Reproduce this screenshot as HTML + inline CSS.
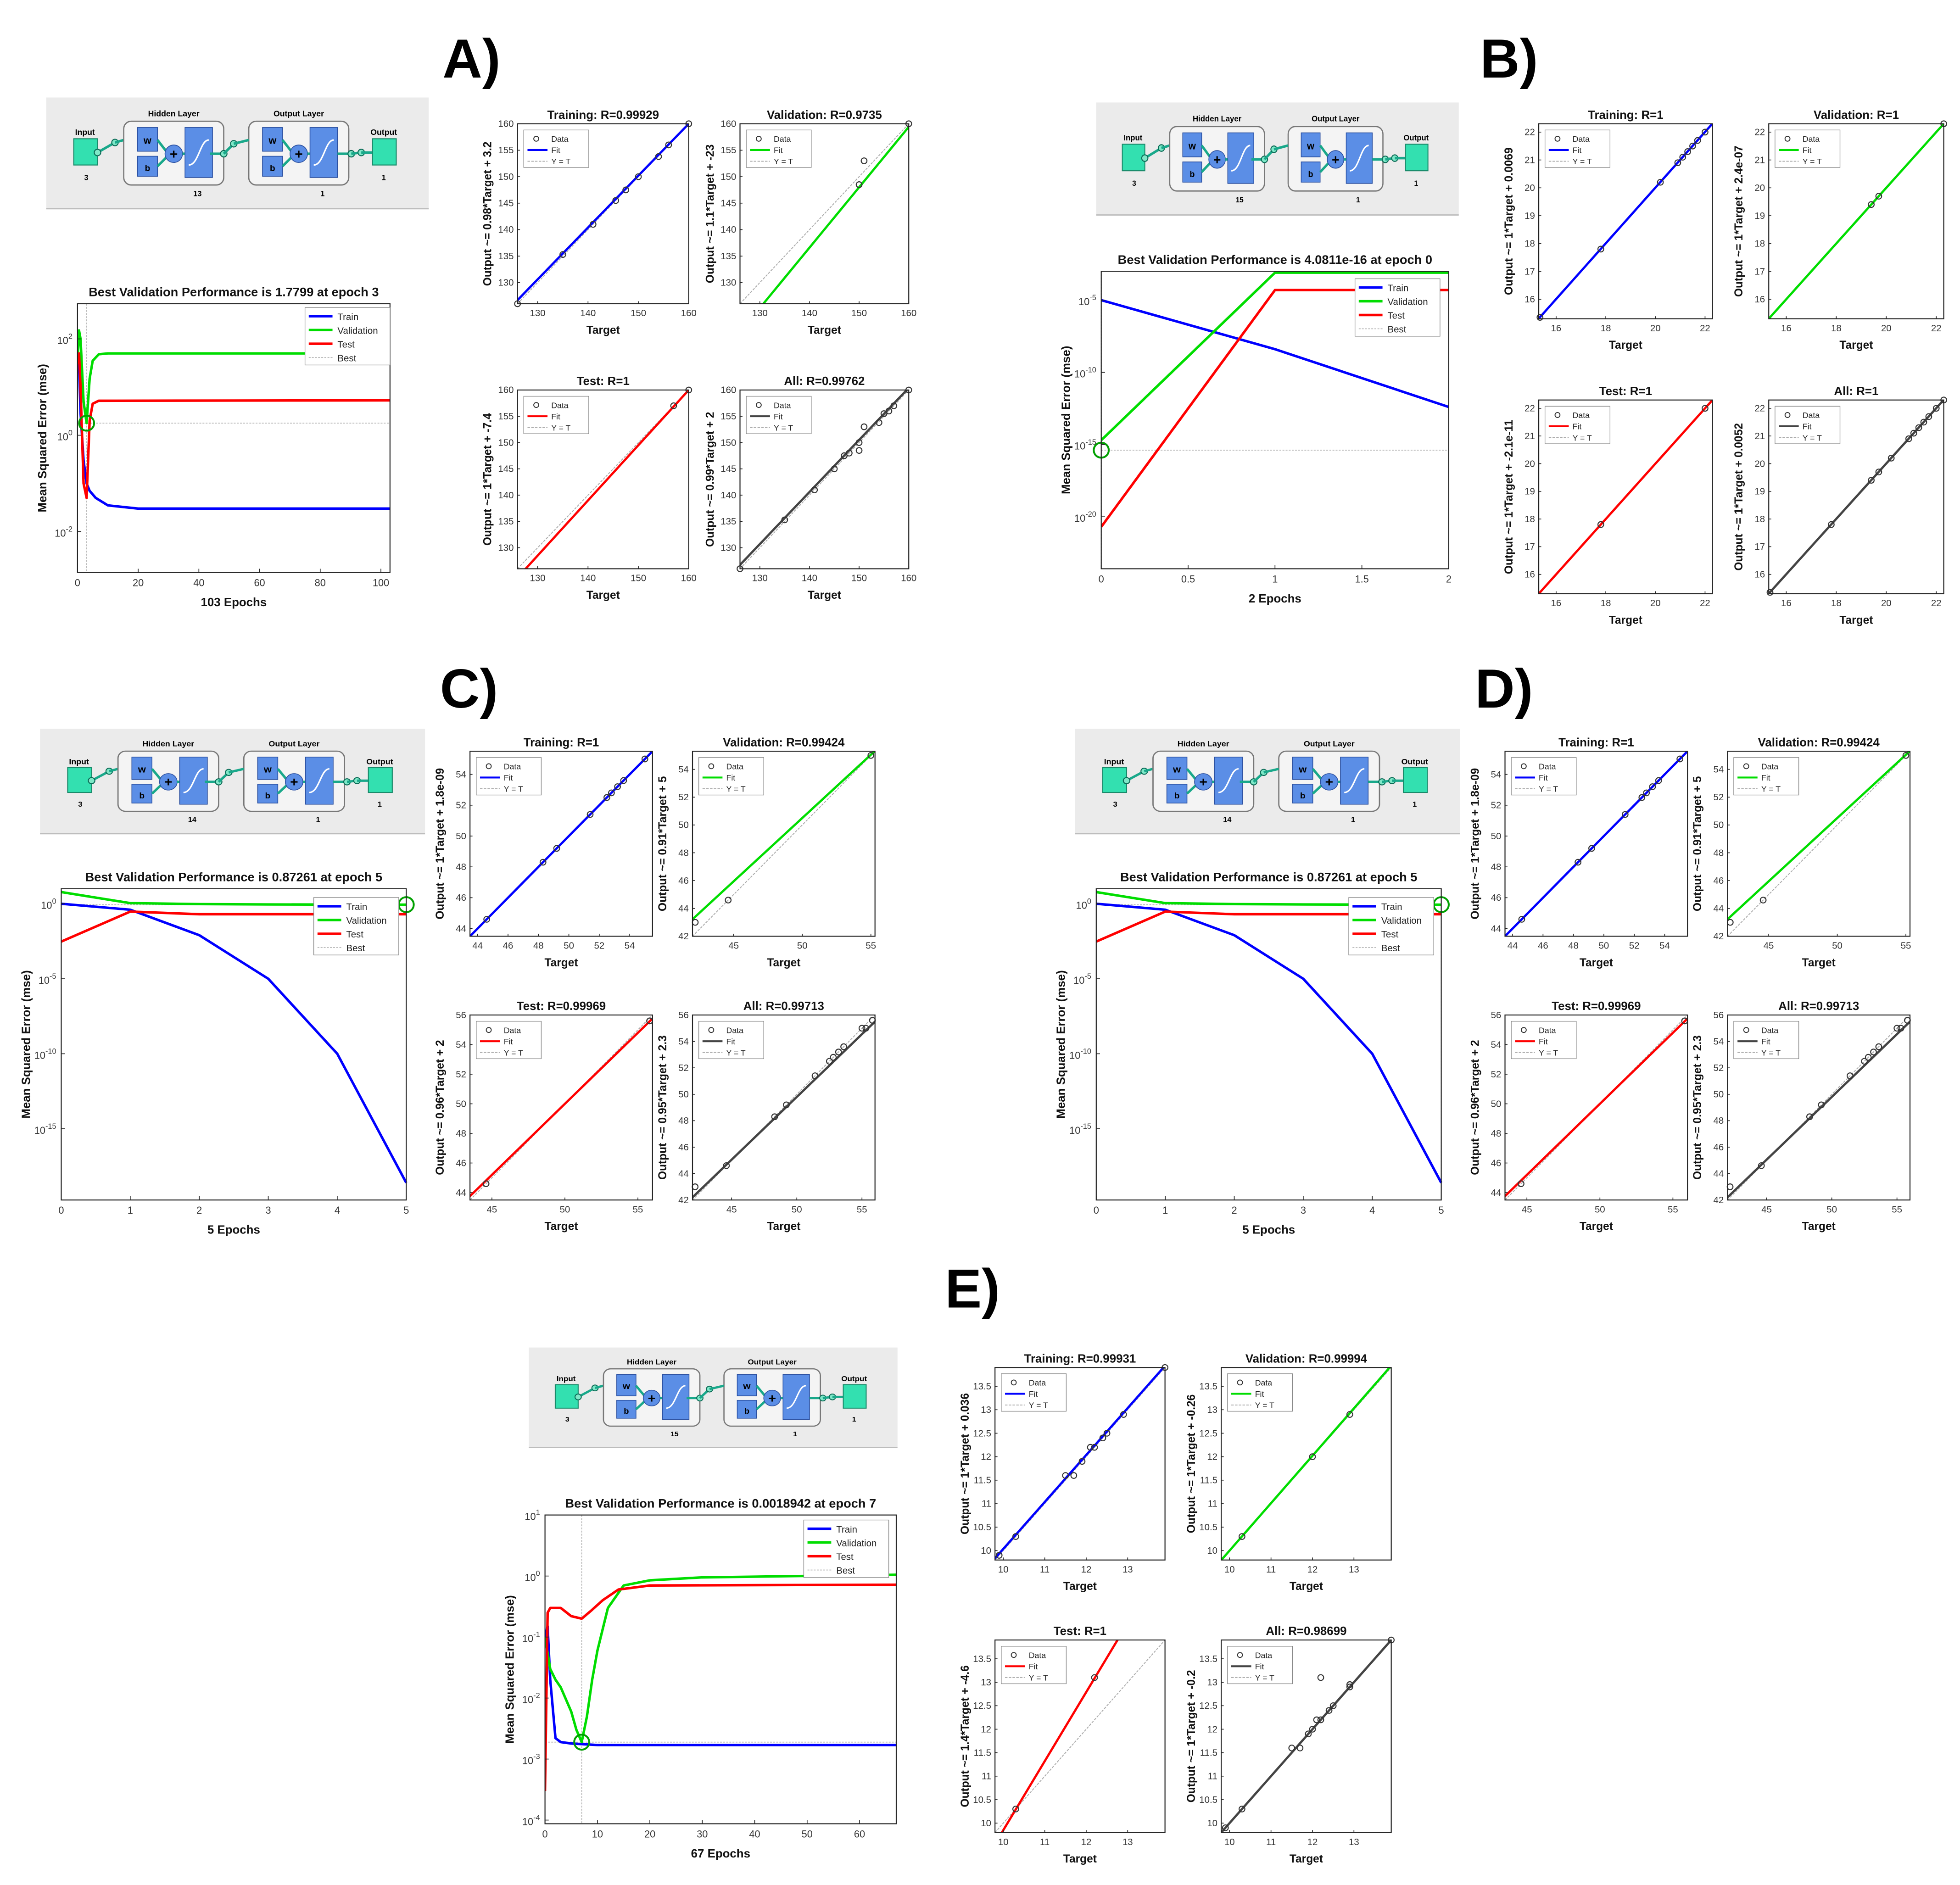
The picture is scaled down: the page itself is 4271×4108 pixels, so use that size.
<!DOCTYPE html>
<html><head><meta charset="utf-8"><style>
html,body{margin:0;padding:0;background:#fff;overflow:hidden;width:4271px;height:4108px;}
svg{display:block;font-family:"Liberation Sans",Arial,sans-serif;}
</style></head><body>
<svg id="fig" xmlns="http://www.w3.org/2000/svg" width="4271" height="4108" viewBox="0 0 1568 1508" preserveAspectRatio="none">
<rect x="0" y="0" width="1568" height="1508" fill="#fff"/>
</svg>
<script>
// ===== Performance data =====
const aTrainE=[0,0.5,1,2,3,4,6,10,20,103];
const aTrainV=[22,30,3,0.3,0.1,0.07,0.05,0.035,0.03,0.03];
const aValE=[0,0.5,1,2,3,4,5,7,10,103];
const aValV=[30,150,100,5,1.78,15,35,48,50,50];
const aTestE=[0,0.5,1,2,3,4,5,7,103];
const aTestV=[30,50,10,0.1,0.05,2,4.5,5.2,5.3];
const bEpochs=[0,1,2];
const bTrainV=[1e-5,4e-9,4e-13];
const bValV=[2e-15,8e-4,8e-4];
const bTestV=[2e-21,5e-5,5e-5];
const cEpochs=[0,1,2,3,4,5];
const cTrainV=[1,0.4,0.008,1e-5,1e-10,2.5e-19];
const cValV=[6,1.1,0.95,0.9,0.88,0.87];
const cTestV=[0.003,0.3,0.2,0.2,0.2,0.2];
const eTrainE=[0,0.5,1,2,3,5,10,20,67];
const eTrainV=[0.1,0.15,0.02,0.0022,0.0019,0.0018,0.0017,0.0017,0.0017];
const eValE=[0,1,2,3,5,6,7,8,9,10,12,15,20,30,67];
const eValV=[0.1,0.03,0.02,0.015,0.006,0.003,0.0019,0.005,0.02,0.06,0.3,0.7,0.85,0.95,1.05];
const eTestE=[0,0.5,1,3,5,7,9,11,14,20,67];
const eTestV=[0.0003,0.25,0.3,0.3,0.22,0.2,0.28,0.4,0.6,0.7,0.72];
// ===== Regression data =====
const aTrainPts=[[126,126],[135,135.3],[141,141],[145.5,145.5],[147.5,147.5],[150,150],[154,153.8],[156,156],[160,160]];
const aValPts=[[150,148.5],[151,153],[160,160]];
const aTestPts=[[157,157],[160,160]];
const aAllPts=[[126,126],[135,135.3],[141,141],[145,145],[147,147.5],[148,148],[150,148.5],[150,150],[151,153],[154,153.8],[155,155.5],[156,156],[157,157],[160,160]];
const bTrainPts=[[15.35,15.35],[17.8,17.8],[20.2,20.2],[20.9,20.9],[21.1,21.1],[21.3,21.3],[21.5,21.5],[21.7,21.7],[22,22]];
const bValPts=[[19.4,19.4],[19.7,19.7],[22.3,22.3]];
const bTestPts=[[17.8,17.8],[22,22]];
const bAllPts=[[15.35,15.35],[17.8,17.8],[19.4,19.4],[19.7,19.7],[20.2,20.2],[20.9,20.9],[21.1,21.1],[21.3,21.3],[21.5,21.5],[21.7,21.7],[22,22],[22.3,22.3]];
const cTrainPts=[[44.6,44.6],[48.3,48.3],[49.2,49.2],[51.4,51.4],[52.5,52.5],[52.8,52.8],[53.2,53.2],[53.6,53.6],[55,55]];
const cValPts=[[42.2,43],[44.6,44.6],[55,55]];
const cTestPts=[[44.6,44.6],[55.8,55.6]];
const cAllPts=[[42.2,43],[44.6,44.6],[48.3,48.3],[49.2,49.2],[51.4,51.4],[52.5,52.5],[52.8,52.8],[53.2,53.2],[53.6,53.6],[55,55],[55.3,55],[55.8,55.6]];
const eTrainPts=[[9.9,9.9],[10.3,10.3],[11.5,11.6],[11.7,11.6],[11.9,11.9],[12.1,12.2],[12.2,12.2],[12.4,12.4],[12.5,12.5],[12.9,12.9],[13.9,13.9]];
const eValPts=[[10.3,10.3],[12,12],[12.9,12.9]];
const eTestPts=[[10.3,10.3],[12.2,13.1]];
const eAllPts=[[9.9,9.9],[10.3,10.3],[11.5,11.6],[11.7,11.6],[11.9,11.9],[12,12],[12.1,12.2],[12.2,13.1],[12.2,12.2],[12.4,12.4],[12.5,12.5],[12.9,12.9],[12.9,12.95],[13.9,13.9]];
// ===== Ticks =====
const aRegXT=[130,140,150,160], aRegYT=[130,135,140,145,150,155,160];
const bRegXT=[16,18,20,22], bRegYT=[16,17,18,19,20,21,22];
const cTrXT=[44,46,48,50,52,54], cTrYT=[44,46,48,50,52,54];
const cXT=[45,50,55], cValYT=[42,44,46,48,50,52,54], cTeYT=[44,46,48,50,52,54,56], cAllYT=[42,44,46,48,50,52,54,56];
const eRegXT=[10,11,12,13], eRegYT=[10,10.5,11,11.5,12,12.5,13,13.5];

const NS='http://www.w3.org/2000/svg';
const svg=document.getElementById('fig');
function mk(tag,attrs,parent){const e=document.createElementNS(NS,tag);for(const k in attrs)e.setAttribute(k,attrs[k]);(parent||svg).appendChild(e);return e;}
function txt(s,attrs,parent){const e=mk('text',attrs,parent);e.textContent=s;return e;}
let clipN=0;
const COL={blue:'#0000ff',green:'#00dd00',red:'#ff0000',gray:'#444'};

function reg(b,c){
  const g=mk('g',{});
  
  
  const sx=v=>b[0]+(v-c.lo)/(c.hi-c.lo)*(b[2]-b[0]);
  const sy=v=>b[3]-(v-c.ylo)/(c.yhi-c.ylo)*(b[3]-b[1]);
  mk('rect',{x:b[0],y:b[1],width:b[2]-b[0],height:b[3]-b[1],fill:'#fff'},g);
  const id='cl'+(clipN++);
  const cp=mk('clipPath',{id:id},g);
  mk('rect',{x:b[0],y:b[1],width:b[2]-b[0],height:b[3]-b[1]},cp);
  const lo=Math.min(c.lo,c.ylo),hi=Math.max(c.hi,c.yhi);
  const yt=mk('line',{x1:sx(lo),y1:sy(lo),x2:sx(hi),y2:sy(hi),stroke:'#aaa','stroke-width':0.7,'stroke-dasharray':'2,1','clip-path':`url(#${id})`},g);
  
  
  const x1=c.lo-5,x2=c.hi+5;
  const fl=mk('line',{x1:sx(x1),y1:sy(c.m*x1+c.k),x2:sx(x2),y2:sy(c.m*x2+c.k),stroke:COL[c.color],'stroke-width':1.8,'clip-path':`url(#${id})`},g);
  
  
  c.pts.forEach(p=>{
    const pt=mk('circle',{cx:sx(p[0]),cy:sy(p[1]),r:2.3,fill:'none',stroke:'#333','stroke-width':0.8},g);
    
    
  });
  mk('rect',{x:b[0],y:b[1],width:b[2]-b[0],height:b[3]-b[1],fill:'none',stroke:'#222','stroke-width':0.8},g);
  c.xt.forEach(v=>{
    mk('line',{x1:sx(v),y1:b[3],x2:sx(v),y2:b[3]-2,stroke:'#222','stroke-width':0.6},g);
    const t=txt(String(v),{x:sx(v),y:b[3]+10,'font-size':7.5,'text-anchor':'middle',fill:'#333'},g);
    
    
  });
  c.yt.forEach(v=>{
    mk('line',{x1:b[0],y1:sy(v),x2:b[0]+2,y2:sy(v),stroke:'#222','stroke-width':0.6},g);
    const t=txt(String(v),{x:b[0]-3,y:sy(v)+2.5,'font-size':7.5,'text-anchor':'end',fill:'#333'},g);
    
    
  });
  const ti=txt(c.title,{x:(b[0]+b[2])/2,y:b[1]-4,'font-size':9.5,'font-weight':'bold','text-anchor':'middle',fill:'#111'},g);
  
  
  const xl=txt('Target',{x:(b[0]+b[2])/2,y:b[3]+24,'font-size':9,'font-weight':'bold','text-anchor':'middle',fill:'#111'},g);
  
  
  const cy=(b[1]+b[3])/2, lx=b[0]-21;
  const yl=txt(c.ylabel,{x:lx,y:cy,'font-size':9,'font-weight':'bold','text-anchor':'middle',fill:'#111',transform:`rotate(-90 ${lx} ${cy})`},g);
  
  
  const lg=mk('g',{},g);
  
  
  const L=b[0]+5,T=b[1]+5;
  mk('rect',{x:L,y:T,width:52,height:30,fill:'#fff',stroke:'#888','stroke-width':0.5},lg);
  mk('circle',{cx:L+10,cy:T+7,r:2,fill:'none',stroke:'#333','stroke-width':0.7},lg);
  txt('Data',{x:L+22,y:T+9.5,'font-size':6.5,fill:'#222'},lg);
  mk('line',{x1:L+3,y1:T+16,x2:L+19,y2:T+16,stroke:COL[c.color],'stroke-width':1.5},lg);
  txt('Fit',{x:L+22,y:T+18.5,'font-size':6.5,fill:'#222'},lg);
  mk('line',{x1:L+3,y1:T+25,x2:L+19,y2:T+25,stroke:'#aaa','stroke-width':0.7,'stroke-dasharray':'2,1'},lg);
  txt('Y = T',{x:L+22,y:T+27.5,'font-size':6.5,fill:'#222'},lg);
}

function perf(b,c){
  const g=mk('g',{});
  
  
  const sx=v=>b[0]+v/c.xmax*(b[2]-b[0]);
  const sy=v=>b[3]-(Math.log10(v)-c.ylo)/(c.yhi-c.ylo)*(b[3]-b[1]);
  mk('rect',{x:b[0],y:b[1],width:b[2]-b[0],height:b[3]-b[1],fill:'#fff'},g);
  const id='cl'+(clipN++);
  const cp=mk('clipPath',{id:id},g);
  mk('rect',{x:b[0],y:b[1]-1,width:b[2]-b[0]+1,height:b[3]-b[1]+2},cp);
  mk('line',{x1:b[0],y1:sy(c.best[1]),x2:b[2],y2:sy(c.best[1]),stroke:'#bbb','stroke-width':0.7,'stroke-dasharray':'1.5,1'},g);
  mk('line',{x1:sx(c.best[0]),y1:b[1],x2:sx(c.best[0]),y2:b[3],stroke:'#bbb','stroke-width':0.7,'stroke-dasharray':'1.5,1'},g);
  c.series.forEach(s=>{
    const d=s.e.map((e,i)=>(i?'L':'M')+sx(e).toFixed(2)+','+sy(s.v[i]).toFixed(2)).join(' ');
    const p=mk('path',{d:d,fill:'none',stroke:COL[s.color],'stroke-width':2,'stroke-linejoin':'round','clip-path':`url(#${id})`},g);
    
    
  });
  const bc=mk('circle',{cx:sx(c.best[0]),cy:sy(c.best[1]),r:6,fill:'none',stroke:'#00a000','stroke-width':1.5},g);
  
  
  mk('rect',{x:b[0],y:b[1],width:b[2]-b[0],height:b[3]-b[1],fill:'none',stroke:'#222','stroke-width':0.8},g);
  c.xt.forEach(v=>{
    mk('line',{x1:sx(v),y1:b[3],x2:sx(v),y2:b[3]-3,stroke:'#222','stroke-width':0.6},g);
    const t=txt(String(v),{x:sx(v),y:b[3]+11,'font-size':8,'text-anchor':'middle',fill:'#333'},g);
    
    
  });
  c.yt.forEach(v=>{
    const y=b[3]-(v-c.ylo)/(c.yhi-c.ylo)*(b[3]-b[1]);
    mk('line',{x1:b[0],y1:y,x2:b[0]+3,y2:y,stroke:'#222','stroke-width':0.6},g);
    const t=mk('text',{x:b[0]-4,y:y+4,'font-size':8,'text-anchor':'end',fill:'#333'},g);
    
    
    const t1=mk('tspan',{},t);t1.textContent='10';
    const t2=mk('tspan',{dy:-4,'font-size':6},t);t2.textContent=String(v);
  });
  const ti=txt(c.title,{x:(b[0]+b[2])/2,y:b[1]-6,'font-size':10,'font-weight':'bold','text-anchor':'middle',fill:'#111'},g);
  
  
  const xl=txt(c.xlabel,{x:(b[0]+b[2])/2,y:b[3]+27,'font-size':9.5,'font-weight':'bold','text-anchor':'middle',fill:'#111'},g);
  
  
  const cy=(b[1]+b[3])/2, lx=b[0]-25;
  const yl=txt('Mean Squared Error  (mse)',{x:lx,y:cy,'font-size':9.5,'font-weight':'bold','text-anchor':'middle',fill:'#111',transform:`rotate(-90 ${lx} ${cy})`},g);
  
  
  const lg=mk('g',{},g);
  
  
  const L=c.leg[0],T=c.leg[1];
  mk('rect',{x:L,y:T,width:68,height:46,fill:'#fff',stroke:'#888','stroke-width':0.5},lg);
  [['Train','blue'],['Validation','green'],['Test','red'],['Best','best']].forEach((r,i)=>{
    const y=T+7+i*11;
    if(r[1]==='best')mk('line',{x1:L+3,y1:y,x2:L+22,y2:y,stroke:'#bbb','stroke-width':0.7,'stroke-dasharray':'1.5,1'},lg);
    else mk('line',{x1:L+3,y1:y,x2:L+22,y2:y,stroke:COL[r[1]],'stroke-width':2},lg);
    txt(r[0],{x:L+26,y:y+3,'font-size':7.5,fill:'#222'},lg);
  });
}

function net(x,y,w,h,hn){
  const g=mk('g',{transform:`translate(${x},${y}) scale(${w/306},${h/89})`});
  
  
  mk('rect',{x:0,y:0,width:306,height:89,fill:'#ebebeb'},g);
  mk('line',{x1:0,y1:89,x2:306,y2:89,stroke:'#bbb','stroke-width':1},g);
  const tl='#19a88a';
  const line=(a,b2,c2,d)=>mk('line',{x1:a,y1:b2,x2:c2,y2:d,stroke:tl,'stroke-width':2},g);
  const dot=(a,b2)=>mk('circle',{cx:a,cy:b2,r:2.6,fill:'#7fe8c8',stroke:'#0a6a55','stroke-width':0.8},g);
  txt('Input',{x:31,y:30,'font-size':6.5,'font-weight':'bold','text-anchor':'middle'},g);
  mk('rect',{x:22,y:33,width:19,height:21,fill:'#33e0b0',stroke:'#1a8a6a','stroke-width':0.8},g);
  txt('3',{x:32,y:66,'font-size':6,'font-weight':'bold','text-anchor':'middle'},g);
  line(41,44,55,36);dot(41,44);dot(55,36);line(55,36,62,34);
  [[62,'Hidden Layer',String(hn)],[162,'Output Layer','1']].forEach(L=>{
    const ox=L[0];
    txt(L[1],{x:ox+40,y:15,'font-size':6.5,'font-weight':'bold','text-anchor':'middle'},g);
    mk('rect',{x:ox,y:19,width:80,height:51,rx:6,fill:'#f4f4f4',stroke:'#777','stroke-width':1},g);
    mk('rect',{x:ox+11,y:24,width:16,height:19,fill:'#5b8ee6',stroke:'#2a4fa0','stroke-width':0.6},g);
    txt('w',{x:ox+19,y:37,'font-size':8,'font-weight':'bold','text-anchor':'middle'},g);
    mk('rect',{x:ox+11,y:47,width:16,height:16,fill:'#5b8ee6',stroke:'#2a4fa0','stroke-width':0.6},g);
    txt('b',{x:ox+19,y:59,'font-size':7,'font-weight':'bold','text-anchor':'middle'},g);
    line(ox+27,34,ox+34,43);line(ox+27,55,ox+34,48);
    mk('circle',{cx:ox+40,cy:45,r:7,fill:'#5b8ee6',stroke:'#2a4fa0','stroke-width':0.6},g);
    txt('+',{x:ox+40,y:49,'font-size':11,'font-weight':'bold','text-anchor':'middle'},g);
    line(ox+47,45,ox+49,45);
    mk('rect',{x:ox+49,y:24,width:22,height:40,fill:'#5b8ee6',stroke:'#2a4fa0','stroke-width':0.6},g);
    mk('path',{d:`M${ox+52},${54} C${ox+60},${54} ${ox+61},${34} ${ox+68},${34}`,fill:'none',stroke:'#fff','stroke-width':1.2},g);
    txt(L[2],{x:ox+59,y:79,'font-size':6,'font-weight':'bold','text-anchor':'middle'},g);
  });
  line(131,45,142,45);dot(142,45);line(142,45,150,37);dot(150,37);line(150,37,162,34);
  line(233,45,244,45);dot(244,45);line(244,45,252,44);dot(252,44);line(252,44,261,44);
  txt('Output',{x:270,y:30,'font-size':6.5,'font-weight':'bold','text-anchor':'middle'},g);
  mk('rect',{x:261,y:33,width:19,height:21,fill:'#33e0b0',stroke:'#1a8a6a','stroke-width':0.8},g);
  txt('1',{x:270,y:66,'font-size':6,'font-weight':'bold','text-anchor':'middle'},g);
}

function label(s,x,y,sz){
  const t=txt(s,{x:x,y:y,'font-size':sz,'font-weight':'bold',fill:'#000'});
  
  
}

// ===== Panel A =====
label('A)',354,62,44);
net(37,78,306,89,13);
perf([62,243,312,458],{name:'performance-plot-a',xmax:103,ylo:-2.85,yhi:2.73,yt:[-2,0,2],xt:[0,20,40,60,80,100],
  series:[{e:aTrainE,v:aTrainV,color:'blue',name:'train-curve'},{e:aValE,v:aValV,color:'green',name:'validation-curve'},{e:aTestE,v:aTestV,color:'red',name:'test-curve'}],
  best:[3,1.7799],title:'Best Validation Performance is 1.7799 at epoch 3',xlabel:'103 Epochs',leg:[244,246]});
reg([414,99,551,243],{name:'regression-a-training',lo:126,hi:160,ylo:126,yhi:160,xt:aRegXT,yt:aRegYT,pts:aTrainPts,m:0.98,k:3.2,color:'blue',title:'Training: R=0.99929',ylabel:'Output ~= 0.98*Target + 3.2'});
reg([592,99,727,243],{name:'regression-a-validation',lo:126,hi:160,ylo:126,yhi:160,xt:aRegXT,yt:aRegYT,pts:aValPts,m:1.14,k:-23,color:'green',title:'Validation: R=0.9735',ylabel:'Output ~= 1.1*Target + -23'});
reg([414,312,551,455],{name:'regression-a-test',lo:126,hi:160,ylo:126,yhi:160,xt:aRegXT,yt:aRegYT,pts:aTestPts,m:1.05,k:-8,color:'red',title:'Test: R=1',ylabel:'Output ~= 1*Target + -7.4'});
reg([592,312,727,455],{name:'regression-a-all',lo:126,hi:160,ylo:126,yhi:160,xt:aRegXT,yt:aRegYT,pts:aAllPts,m:0.99,k:2,color:'gray',title:'All: R=0.99762',ylabel:'Output ~= 0.99*Target + 2'});

// ===== Panel B =====
label('B)',1184,62,44);
net(877,82,290,90,15);
perf([881,217,1159,455],{name:'performance-plot-b',xmax:2,ylo:-23.6,yhi:-3.0,yt:[-5,-10,-15,-20],xt:[0,0.5,1,1.5,2],
  series:[{e:bEpochs,v:bTrainV,color:'blue',name:'train-curve'},{e:bEpochs,v:bValV,color:'green',name:'validation-curve'},{e:bEpochs,v:bTestV,color:'red',name:'test-curve'}],
  best:[0,4.0811e-16],title:'Best Validation Performance is 4.0811e-16 at epoch 0',xlabel:'2 Epochs',leg:[1084,223]});
reg([1231,99,1370,255],{name:'regression-b-training',lo:15.3,hi:22.3,ylo:15.3,yhi:22.3,xt:bRegXT,yt:bRegYT,pts:bTrainPts,m:1,k:0.0069,color:'blue',title:'Training: R=1',ylabel:'Output ~= 1*Target + 0.0069'});
reg([1415,99,1555,255],{name:'regression-b-validation',lo:15.3,hi:22.3,ylo:15.3,yhi:22.3,xt:bRegXT,yt:bRegYT,pts:bValPts,m:1,k:0,color:'green',title:'Validation: R=1',ylabel:'Output ~= 1*Target + 2.4e-07'});
reg([1231,320,1370,475],{name:'regression-b-test',lo:15.3,hi:22.3,ylo:15.3,yhi:22.3,xt:bRegXT,yt:bRegYT,pts:bTestPts,m:1,k:0,color:'red',title:'Test: R=1',ylabel:'Output ~= 1*Target + -2.1e-11'});
reg([1415,320,1555,475],{name:'regression-b-all',lo:15.3,hi:22.3,ylo:15.3,yhi:22.3,xt:bRegXT,yt:bRegYT,pts:bAllPts,m:1,k:0.0052,color:'gray',title:'All: R=1',ylabel:'Output ~= 1*Target + 0.0052'});

// ===== Panels C & D =====
[[0,'C)','c'],[828,'D)','d']].forEach(P=>{
  const o=P[0];
  label(P[1],352+o,566,44);
  net(32+o,583,308,84,14);
  perf([49+o,711,325+o,960],{name:'performance-plot-'+P[2],xmax:5,ylo:-19.75,yhi:1,yt:[0,-5,-10,-15],xt:[0,1,2,3,4,5],
    series:[{e:cEpochs,v:cTrainV,color:'blue',name:'train-curve'},{e:cEpochs,v:cValV,color:'green',name:'validation-curve'},{e:cEpochs,v:cTestV,color:'red',name:'test-curve'}],
    best:[5,0.87261],title:'Best Validation Performance is 0.87261 at epoch 5',xlabel:'5 Epochs',leg:[251+o,718]});
  reg([376+o,601,522+o,749],{name:'regression-'+P[2]+'-training',lo:43.5,hi:55.5,ylo:43.5,yhi:55.5,xt:cTrXT,yt:cTrYT,pts:cTrainPts,m:1,k:0,color:'blue',title:'Training: R=1',ylabel:'Output ~= 1*Target + 1.8e-09'});
  reg([554+o,601,700+o,749],{name:'regression-'+P[2]+'-validation',lo:42,hi:55.3,ylo:42,yhi:55.3,xt:cXT,yt:cValYT,pts:cValPts,m:0.91,k:5,color:'green',title:'Validation: R=0.99424',ylabel:'Output ~= 0.91*Target + 5'});
  reg([376+o,812,522+o,960],{name:'regression-'+P[2]+'-test',lo:43.5,hi:56,ylo:43.5,yhi:56,xt:cXT,yt:cTeYT,pts:cTestPts,m:0.96,k:2,color:'red',title:'Test: R=0.99969',ylabel:'Output ~= 0.96*Target + 2'});
  reg([554+o,812,700+o,960],{name:'regression-'+P[2]+'-all',lo:42,hi:56,ylo:42,yhi:56,xt:cXT,yt:cAllYT,pts:cAllPts,m:0.95,k:2.3,color:'gray',title:'All: R=0.99713',ylabel:'Output ~= 0.95*Target + 2.3'});
});

// ===== Panel E =====
label('E)',756,1046,44);
net(423,1078,295,80,15);
perf([436,1212,717,1459],{name:'performance-plot-e',xmax:67,ylo:-4.06,yhi:1,yt:[1,0,-1,-2,-3,-4],xt:[0,10,20,30,40,50,60],
  series:[{e:eTrainE,v:eTrainV,color:'blue',name:'train-curve'},{e:eValE,v:eValV,color:'green',name:'validation-curve'},{e:eTestE,v:eTestV,color:'red',name:'test-curve'}],
  best:[7,0.0018942],title:'Best Validation Performance is 0.0018942 at epoch 7',xlabel:'67 Epochs',leg:[643,1216]});
reg([796,1094,932,1248],{name:'regression-e-training',lo:9.8,hi:13.9,ylo:9.8,yhi:13.9,xt:eRegXT,yt:eRegYT,pts:eTrainPts,m:1,k:0.036,color:'blue',title:'Training: R=0.99931',ylabel:'Output ~= 1*Target + 0.036'});
reg([977,1094,1113,1248],{name:'regression-e-validation',lo:9.8,hi:13.9,ylo:9.8,yhi:13.9,xt:eRegXT,yt:eRegYT,pts:eValPts,m:1.01,k:-0.1,color:'green',title:'Validation: R=0.99994',ylabel:'Output ~= 1*Target + -0.26'});
reg([796,1312,932,1466],{name:'regression-e-test',lo:9.8,hi:13.9,ylo:9.8,yhi:13.9,xt:eRegXT,yt:eRegYT,pts:eTestPts,m:1.47,k:-4.85,color:'red',title:'Test: R=1',ylabel:'Output ~= 1.4*Target + -4.6'});
reg([977,1312,1113,1466],{name:'regression-e-all',lo:9.8,hi:13.9,ylo:9.8,yhi:13.9,xt:eRegXT,yt:eRegYT,pts:eAllPts,m:1,k:0,color:'gray',title:'All: R=0.98699',ylabel:'Output ~= 1*Target + -0.2'});
</script>
</body></html>
